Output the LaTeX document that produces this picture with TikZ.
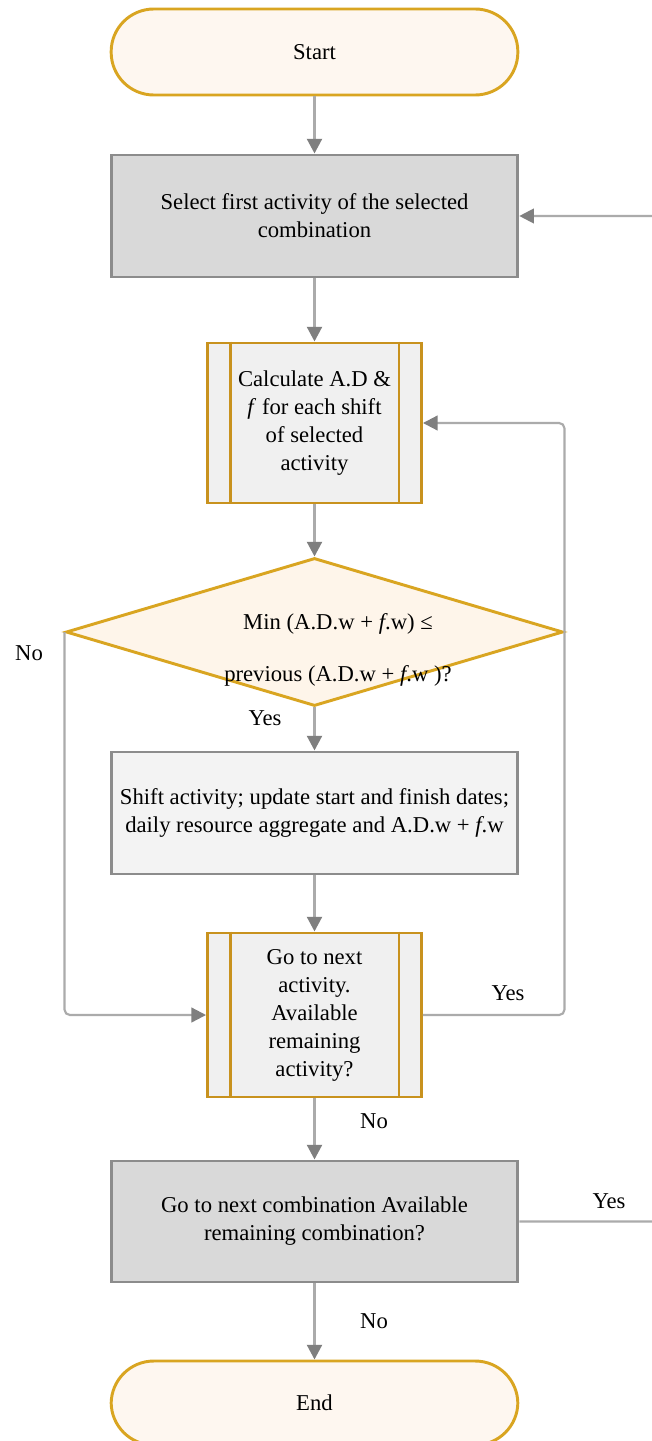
\documentclass[tikz,border=0pt]{standalone}
\usepackage{fontspec}
\setmainfont{Liberation Serif}
\usetikzlibrary{arrows.meta,shapes.geometric}

\definecolor{gold}{HTML}{D9A521}
\definecolor{golddark}{HTML}{C8921E}
\definecolor{cream}{HTML}{FEF7F0}
\definecolor{creamdia}{HTML}{FEF5EA}
\definecolor{boxgray}{HTML}{D9D9D9}
\definecolor{boxlight}{HTML}{F3F3F3}
\definecolor{predefill}{HTML}{F0F0F0}
\definecolor{edgegray}{HTML}{8C8C8C}
\definecolor{linegray}{HTML}{ABABAB}
\definecolor{tipgray}{HTML}{7F7F7F}

\begin{document}
\begin{tikzpicture}[x=0.75pt,y=-0.75pt,
  every node/.style={font=\fontsize{17}{21}\selectfont, align=center, inner sep=0pt},
  term/.style={draw=gold, fill=cream, line width=2.2pt, rounded corners=32pt,
    minimum width=305pt, minimum height=64.5pt},
  darkbox/.style={draw=edgegray, fill=boxgray, line width=2.2pt,
    minimum width=305pt, minimum height=91.5pt},
  lightbox/.style={draw=edgegray, fill=boxlight, line width=2.2pt,
    minimum width=305pt, minimum height=91.5pt},
  predef/.style={draw=golddark, fill=predefill, line width=2.2pt,
    minimum width=160.5pt, minimum height=#1},
  predefbar/.style={draw=golddark, line width=2.2pt},
  decision/.style={diamond, draw=gold, fill=creamdia, line width=2.2pt,
    minimum width=372.75pt, minimum height=111pt},
  tip/.style={-{Triangle[length=11pt,width=11pt,color=tipgray]}},
  flow/.style={draw=linegray, line width=2.2pt, tip},
  loopline/.style={draw=linegray, line width=1.6pt, rounded corners=4pt, tip}
]
\fill[white] (0,0) rectangle (652,1441);
\useasboundingbox (0,0) rectangle (652,1441);
\clip (0,0) rectangle (652,1441);

% nodes
\node[term] (start) at (314.5,52) {Start};
\node[darkbox] (first) at (314.5,216) {Select first activity of the selected\\combination};
\node[predef=120pt] (calc) at (314.5,423) {Calculate A.D \&\\\textit{f} for each shift\\of selected\\activity};
\node[decision] (dia) at (314.5,632) {};
\node (dtext) at (338,650) {Min (A.D.w + \textit{f}.w) ≤\\[18pt]previous (A.D.w + \textit{f}.w )?};
\node[lightbox] (shift) at (314.5,813) {Shift activity; update start and finish dates;\\daily resource aggregate and A.D.w + \textit{f}.w};
\node[predef=123pt] (gonext) at (314.5,1015) {Go to next\\activity.\\Available\\remaining\\activity?};
\node[darkbox, minimum height=90.75pt] (comb) at (314.5,1221.5) {Go to next combination Available\\remaining combination?};
\node[term, minimum height=63pt] (end) at (314.5,1403) {End};

% side bars of the predefined-process boxes
\draw[predefbar] ([xshift=18pt]calc.north west) -- ([xshift=18pt]calc.south west);
\draw[predefbar] ([xshift=-18pt]calc.north east) -- ([xshift=-18pt]calc.south east);
\draw[predefbar] ([xshift=18pt]gonext.north west) -- ([xshift=18pt]gonext.south west);
\draw[predefbar] ([xshift=-18pt]gonext.north east) -- ([xshift=-18pt]gonext.south east);

% main flow
\draw[flow] (start) -- (first);
\draw[flow] (first) -- (calc);
\draw[flow] (calc) -- (dia);
\draw[flow] (dia) -- (shift);
\draw[flow] (shift) -- (gonext);
\draw[flow] (gonext) -- (comb);
\draw[flow] (comb) -- (end);

% loops
\draw[loopline] (dia.west) |- (gonext.west);
\draw[loopline] (gonext.east) -- (gonext.east -| dia.east) -- (calc.east -| dia.east) -- (calc.east);
\coordinate (farR) at (672,0);
\draw[loopline] (comb.east) -- (comb.east -| farR) -- (first.east -| farR) -- (first.east);

% labels
\node (noA) at (29,653) {No};
\node (yesA) at (265,718) {Yes};
\node (yesB) at (508,993) {Yes};
\node (noB) at (374,1121) {No};
\node (yesC) at (609,1201) {Yes};
\node (noC) at (374,1321) {No};
\end{tikzpicture}
\end{document}
